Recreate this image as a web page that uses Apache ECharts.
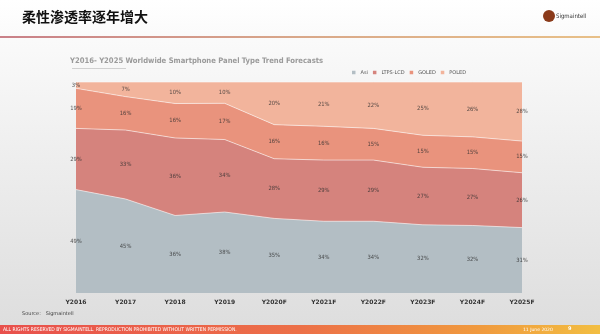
<!DOCTYPE html>
<html><head><meta charset="utf-8">
<script src="https://cdn.jsdelivr.net/npm/echarts@6/dist/echarts.min.js"></script>
<style>html,body{margin:0;padding:0;}#c{width:600px;height:334px;}</style>
</head><body><div id="c"></div>
<script>
const categories = ['Y2016','Y2017','Y2018','Y2019','Y2020F','Y2021F','Y2022F','Y2023F','Y2024F','Y2025F'];
const asi   = [49,45,36,38,35,34,34,32,32,31];
const ltps  = [29,33,36,34,28,29,29,27,27,26];
const goled = [19,16,16,17,16,16,15,15,15,15];
const poled = [3,7,10,10,20,21,22,25,26,28];
const seriesNames = ['Asi','LTPS-LCD','GOLED','POLED'];
const colors = ['#b3bec4','#d5837d','#e9937d','#f2b49c'];

const raw = [asi, ltps, goled, poled];
const totals = categories.map((_, i) => raw.reduce((s, a) => s + a[i], 0));
const pct = raw.map(a => a.map((v, i) => v / totals[i] * 100));

const chart = echarts.init(document.getElementById('c'));
const series = [];
pct.forEach((arr, k) => {
  series.push({
    name: seriesNames[k], type: 'line', stack: 'all', data: arr,
    symbol: 'none', smooth: false,
    lineStyle: { width: 1, color: 'rgba(255,255,255,0.55)' },
    areaStyle: { color: colors[k], opacity: 1 },
    itemStyle: { color: colors[k] },
    z: 2
  });
});
pct.forEach((arr, k) => {
  series.push({
    type: 'scatter', symbolSize: 0, silent: true, z: 5,
    data: arr.map((v, i) => {
      let below = 0; for (let j = 0; j < k; j++) below += pct[j][i];
      return { value: [i, below + v / 2], raw: raw[k][i] };
    }),
    label: { show: true, position: 'inside', formatter: p => p.data.raw + '%',
      fontSize: 5.8, color: '#2e2e2e', fontFamily: 'DejaVu Sans Condensed' }
  });
});

chart.setOption({
  animation: false,
  backgroundColor: {
    type: 'linear', x: 0, y: 0, x2: 0, y2: 1,
    colorStops: [{offset: 0, color: '#ffffff'}, {offset: 0.12, color: '#fafafa'}, {offset: 0.5, color: '#ededed'}, {offset: 1, color: '#dddddd'}]
  },
  grid: { left: 76, right: 78, top: 82, bottom: 41 },
  xAxis: {
    type: 'category', data: categories, boundaryGap: false,
    axisLine: { show: false }, axisTick: { show: false },
    axisLabel: { fontSize: 6, color: '#333', fontFamily: 'DejaVu Sans', margin: 6, fontWeight: 'bold' }
  },
  yAxis: { type: 'value', min: 0, max: 100, show: false },
  legend: {
    data: seriesNames, top: 70, left: 352, itemWidth: 3.5, itemHeight: 3.5, itemGap: 5,
    icon: 'rect', textStyle: { fontSize: 5, color: '#555', fontFamily: 'DejaVu Sans' }, padding: 0
  },
  series: series,
  graphic: [
    { type: 'text', left: 22, top: 10, style: { text: '柔性渗透率逐年增大', font: 'bold 14px "Noto Sans CJK SC"', fill: '#111' } },
    { type: 'rect', left: 0, top: 36, shape: { width: 600, height: 2 },
      style: { fill: { type: 'linear', x: 0, y: 0, x2: 1, y2: 0, colorStops: [{offset: 0, color: '#c98088'}, {offset: 0.5, color: '#d9a88a'}, {offset: 1, color: '#e8c088'}] } } },
    { type: 'circle', left: 543, top: 10, shape: { r: 6 }, style: { fill: '#8a3a1a' } },
    { type: 'text', left: 556, top: 13, style: { text: 'Sigmaintell', font: '6px "DejaVu Sans Condensed"', fill: '#333' } },
    { type: 'text', left: 70, top: 57, style: { text: 'Y2016- Y2025 Worldwide Smartphone Panel Type Trend Forecasts', font: 'bold 7.6px "DejaVu Sans Condensed"', fill: '#9a9a9a' } },
    { type: 'rect', left: 72, top: 68, shape: { width: 54, height: 0.6 }, style: { fill: '#aaa' } },
    { type: 'text', left: 22, top: 311, style: { text: 'Source:   Sigmaintell', font: '5px "DejaVu Sans"', fill: '#444' } },
    { type: 'rect', left: 0, top: 325, shape: { width: 600, height: 9 },
      style: { fill: { type: 'linear', x: 0, y: 0, x2: 1, y2: 0, colorStops: [{offset: 0, color: '#e8504c'}, {offset: 0.5, color: '#ec7048'}, {offset: 0.8, color: '#f09a3e'}, {offset: 1, color: '#f2be42'}] } } },
    { type: 'text', left: 3, top: 327, style: { text: 'ALL RIGHTS RESERVED BY SIGMAINTELL. REPRODUCTION PROHIBITED WITHOUT WRITTEN PERMISSION.', font: '5px "DejaVu Sans Condensed"', fill: '#fff' } },
    { type: 'text', left: 523, top: 327, style: { text: '11 June 2020', font: '4.5px "DejaVu Sans"', fill: '#fff' } },
    { type: 'text', left: 568, top: 326.5, style: { text: '9', font: 'bold 5px "DejaVu Sans"', fill: '#fff' } }
  ]
});
</script></body></html>
